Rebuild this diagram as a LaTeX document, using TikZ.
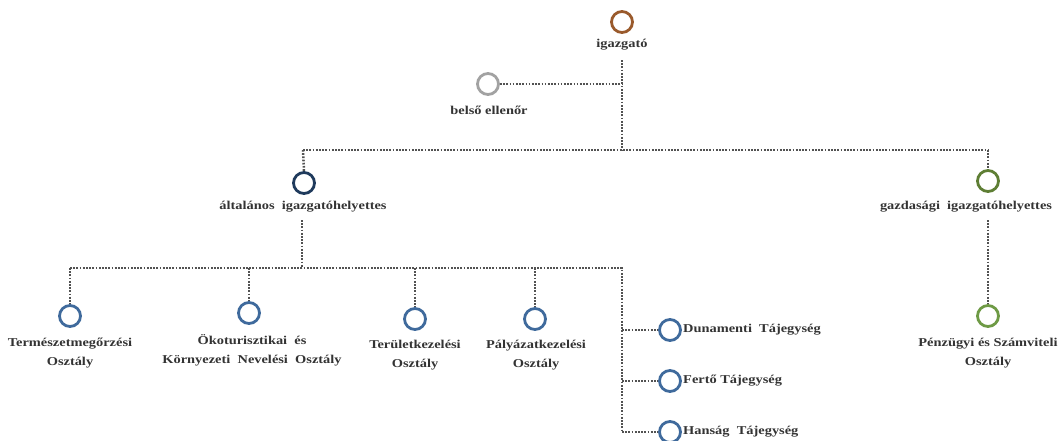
\documentclass[tikz,border=0pt]{standalone}
\usepackage{fontspec}
\setmainfont{Liberation Serif}
\newfontfamily\lblfont{Liberation Serif}[FakeStretch=1.2]
\begin{document}
\begin{tikzpicture}[x=1pt,y=-1pt,
  ring/.style={circle,draw,line width=2.8pt,minimum size=21pt,inner sep=0pt},
  lbl/.style={font=\lblfont\bfseries\fontsize{12}{19}\selectfont,align=center,inner sep=1pt,text=black!80},
  link/.style={draw=black!68,line width=2.5pt,dash pattern=on 1.7pt off 1.5pt}]
\useasboundingbox (0,0) rectangle (1058,440);
\definecolor{cbrown}{HTML}{9A5A2C}
\definecolor{cgray}{HTML}{A2A2A2}
\definecolor{cnavy}{HTML}{1F3A5C}
\definecolor{cgreen}{HTML}{5E7E34}
\definecolor{cgreen2}{HTML}{6E9A45}
\definecolor{cblue}{HTML}{3F6A9C}
% nodes
\node[ring,draw=cbrown] (dir) at (622,22) {};
\node[lbl] (dirl) at (622,45) {igazgató};
\node[ring,draw=cgray] (bel) at (488,84) {};
\node[lbl] (bell) at (489,110) {belső\ ellenőr};
\node[ring,draw=cnavy] (alt) at (304,183) {};
\node[lbl] (altl) at (303,207) {általános\ \ igazgatóhelyettes};
\node[ring,draw=cgreen] (gaz) at (988,181) {};
\node[lbl] (gazl) at (966,207) {gazdasági\ \ igazgatóhelyettes};
\node[ring,draw=cblue] (ter) at (70,316) {};
\node[lbl] (terl) at (70,353) {Természetmegőrzési\\Osztály};
\node[ring,draw=cblue] (oko) at (249,313) {};
\node[lbl] (okol) at (252,350) {Ökoturisztikai\ \ és\\Környezeti\ \ Nevelési\ \ Osztály};
\node[ring,draw=cblue] (tk) at (415,319) {};
\node[lbl] (tkl) at (415,355) {Területkezelési\\Osztály};
\node[ring,draw=cblue] (pk) at (535,319) {};
\node[lbl] (pkl) at (536,355) {Pályázatkezelési\\Osztály};
\node[ring,draw=cblue] (dun) at (670,330) {};
\node[lbl,anchor=west] (dunl) at (682,330) {Dunamenti\ \ Tájegység};
\node[ring,draw=cblue] (fer) at (670,381) {};
\node[lbl,anchor=west] (ferl) at (682,381) {Fertő Tájegység};
\node[ring,draw=cblue] (han) at (670,432) {};
\node[lbl,anchor=west] (hanl) at (682,432) {Hanság\ \ Tájegység};
\node[ring,draw=cgreen2] (pen) at (988,316) {};
\node[lbl] (penl) at (988,353) {Pénzügyi és Számviteli\\Osztály};
% junctions
\coordinate (j0) at (622,84);
\coordinate (j1) at (622,150);
\coordinate (j1l) at (303,150);
\coordinate (j1r) at (988,150);
\coordinate (j2) at (302,268);
\coordinate (j2l) at (70,268);
\coordinate (j2a) at (249,268);
\coordinate (j2b) at (415,268);
\coordinate (j2c) at (535,268);
\coordinate (j2r) at (622,268);
\coordinate (jd) at (622,330);
\coordinate (jf) at (622,381);
\coordinate (jh) at (622,432);
% connectors
\draw[link] (622,60) -- (j1);
\draw[link] (bel.east) -- (j0);
\draw[link] (j1l) -- (j1r);
\draw[link] (j1l) -- (alt.north);
\draw[link] (j1r) -- (gaz.north);
\draw[link] (302,220) -- (j2);
\draw[link] (j2l) -- (j2r) -- (jh);
\draw[link] (j2l) -- (ter.north);
\draw[link] (j2a) -- (oko.north);
\draw[link] (j2b) -- (tk.north);
\draw[link] (j2c) -- (pk.north);
\draw[link] (jd) -- (dun.west);
\draw[link] (jf) -- (fer.west);
\draw[link] (jh) -- (han.west);
\draw[link] (988,220) -- (pen.north);
\end{tikzpicture}
\end{document}
